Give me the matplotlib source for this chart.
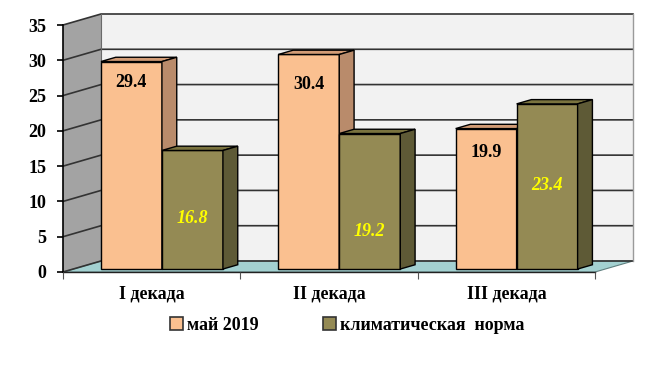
import matplotlib.pyplot as plt
from matplotlib.patches import Polygon, Patch

categories = ['I декада', 'II декада', 'III декада']
may_2019 = [29.4, 30.4, 19.9]
climate_norm = [16.8, 19.2, 23.4]
series_names = ['май 2019', 'климатическая  норма']
y_ticks = [0, 5, 10, 15, 20, 25, 30, 35]

# styling
FONT = 'Liberation Serif'
face = ['#FAC090', '#948A54']
side = ['#B98B6B', '#5E5A36']
top = ['#D29C76', '#7A733F']
BAR_W = 0.344
DX, DY = 0.2143, 1.559     # full depth offset of the 3D box, in data units
D0, D1 = 0.27, 0.66        # depth of bar front / back faces
# label anchor heights (value units, front plane)
may_label_y = [26.9, 26.5, 17.0]
norm_label_y = [7.65, 5.7, 12.2]

fig = plt.figure(figsize=(6.49, 3.65), dpi=100)
ax = fig.add_axes([63 / 649, 93 / 365, 532 / 649, 247 / 365])
ax.set_xlim(-0.5, 2.5)
ax.set_ylim(0, 35)
ax.patch.set_visible(False)


def off(x, y, d):
    return (x + DX * d, y + DY * d)


x_lo, x_hi = -0.5, 2.5
y_top = y_ticks[-1]

# back wall
ax.add_patch(Polygon([off(x_lo, 0, 1), off(x_hi, 0, 1), off(x_hi, y_top, 1), off(x_lo, y_top, 1)],
                     closed=True, fc='#F2F2F2', ec='none', zorder=0.5, clip_on=False))
# left wall
ax.add_patch(Polygon([off(x_lo, 0, 0), off(x_lo, 0, 1), off(x_lo, y_top, 1), off(x_lo, y_top, 0)],
                     closed=True, fc='#A3A3A3', ec='none', zorder=0.6, clip_on=False))
# floor
ax.add_patch(Polygon([off(x_lo, 0, 0), off(x_hi, 0, 0), off(x_hi, 0, 1), off(x_lo, 0, 1)],
                     closed=True, fc='#A3D1D1', ec='#5F7F7F', lw=0.8, zorder=0.7, clip_on=False))
# gridlines on back wall and left wall
for t in y_ticks:
    xs = [x_lo, x_lo + DX, x_hi + DX]
    ys = [t, t + DY, t + DY]
    ax.plot(xs, ys, color='#333333', lw=1.2, zorder=0.8, clip_on=False)
ax.plot([x_hi + DX, x_hi + DX], [DY, y_top + DY], color='#9A9A9A', lw=1, zorder=0.8, clip_on=False)
ax.plot([x_lo + DX, x_lo + DX], [DY, y_top + DY], color='#6A6A6A', lw=0.8, zorder=0.8, clip_on=False)

# bars
for i in range(len(categories)):
    for s, vals in enumerate([may_2019, climate_norm]):
        v = vals[i]
        x0 = i - BAR_W + s * BAR_W
        x1 = x0 + BAR_W
        z = 2 + i * 2 + s * 0.5
        ax.bar(x0 + DX * D0, v, width=BAR_W, bottom=DY * D0, align='edge',
               color=face[s], edgecolor='black', lw=1, zorder=z, clip_on=False)
        ax.add_patch(Polygon([off(x0, v, D0), off(x1, v, D0), off(x1, v, D1), off(x0, v, D1)],
                             closed=True, fc=top[s], ec='black', lw=1, zorder=z, clip_on=False))
        ax.add_patch(Polygon([off(x1, 0, D0), off(x1, v, D0), off(x1, v, D1), off(x1, 0, D1)],
                             closed=True, fc=side[s], ec='black', lw=1, zorder=z, clip_on=False))
        cx = (x0 + x1) / 2 + DX * D0
        if s == 0:
            ax.text(cx, may_label_y[i], f'{v:.1f}', ha='center', va='center',
                    family=FONT, weight='bold', fontsize=13, color='black', zorder=20)
        else:
            ax.text(cx, norm_label_y[i], f'{v:.1f}', ha='center', va='center',
                    family=FONT, weight='bold', style='italic', fontsize=13,
                    color='#FFFF00', zorder=20)

# axes styling
for sp in ['top', 'right']:
    ax.spines[sp].set_visible(False)
ax.spines['left'].set_color('black')
ax.spines['left'].set_linewidth(1.2)
ax.spines['bottom'].set_color('#222222')
ax.spines['bottom'].set_linewidth(1.0)
for sp in ['left', 'bottom']:
    ax.spines[sp].set_zorder(1)
ax.set_yticks(y_ticks)
ax.set_yticklabels([str(t) for t in y_ticks], family=FONT, weight='bold', fontsize=13)
ax.tick_params(axis='y', length=4, width=1.2, pad=8)
ax.set_xticks(range(len(categories)))
ax.set_xticklabels(categories, family=FONT, weight='bold', fontsize=13)
ax.tick_params(axis='x', length=0, pad=10)
ax.set_xticks([-0.5, 0.5, 1.5, 2.5], minor=True)
ax.tick_params(axis='x', which='minor', length=5, width=0.8, color='#555555')

handles = [Patch(fc=face[0], ec='#333333', lw=1.2), Patch(fc=face[1], ec='#333333', lw=1.2)]
fig.legend(handles, series_names, loc='center', bbox_to_anchor=(0.535, 0.108), ncol=2,
           frameon=False, handlelength=0.7, handleheight=0.7, handletextpad=0.2,
           columnspacing=3.6, prop={'family': FONT, 'weight': 'bold', 'size': 13})

fig.savefig('out.png', dpi=100)
